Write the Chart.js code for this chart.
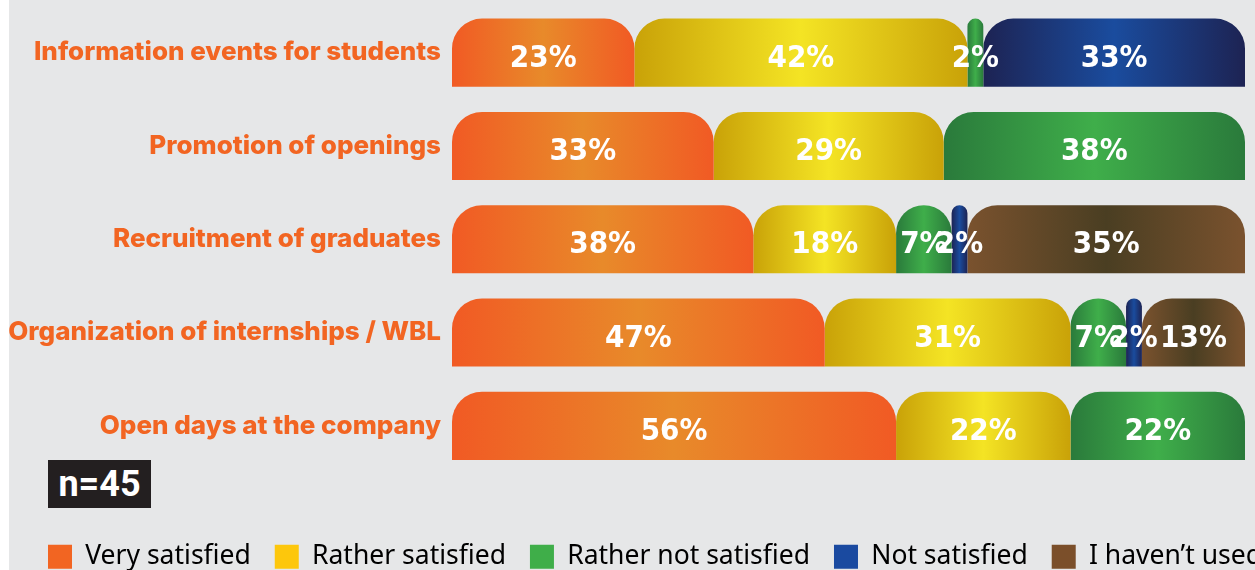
<!DOCTYPE html>
<html>
<head>
<meta charset="utf-8">
<script src="https://cdn.jsdelivr.net/npm/chart.js@4"></script>
<style>
  body { margin: 0; background: #ffffff; overflow: hidden; }
  #wrap { position: absolute; left: 9px; top: 0; width: 1246px; height: 570px; background: #e6e7e8; overflow: hidden; }
  #myChart { position: absolute; left: 0; top: 0; }
  #nbox { position: absolute; left: 39px; top: 460px; width: 103px; height: 48px; background: #231f20; color: #fff;
          font: bold 36px Roboto, "Liberation Sans", sans-serif; line-height: 48px; text-align: center; }
</style>
</head>
<body>
<div id="wrap">
  <canvas id="myChart" width="1300" height="580" style="width:1300px;height:580px"></canvas>
  <div id="nbox">n=45</div>
</div>
<script>
var categories = ["Information events for students", "Promotion of openings", "Recruitment of graduates", "Organization of internships / WBL", "Open days at the company"];
var seriesNames = ["Very satisfied", "Rather satisfied", "Rather not satisfied", "Not satisfied", "I haven\u2019t used"];
var verySatisfied = [23, 33, 38, 47, 56];
var ratherSatisfied = [42, 29, 18, 31, 22];
var ratherNotSatisfied = [2, 38, 7, 7, 22];
var notSatisfied = [33, null, 2, 2, null];
var notUsed = [null, null, 35, 13, null];

var legendColors = ["#f26522", "#fdc70c", "#3fae49", "#1a4aa0", "#7b4f2a"];
var edgeColors = ["#f15a24", "#c9a208", "#2a7a3b", "#1d2353", "#7a522e"];
var midColors = ["#e88a2a", "#f4e424", "#3fae4a", "#1a4c9e", "#4a3e22"];

// horizontal gradient over each segment: dark edges, light middle
function grad(i){
    return function(c){
        var chart = c.chart;
        if(!chart.chartArea || c.type != "data" || c.raw == null) return legendColors[i];
        var start = 0;
        for(var d = 0; d < c.datasetIndex; d++){
            var r = chart.data.datasets[d].data[c.dataIndex];
            if(r) start += r;
        }
        var xs = chart.scales.x;
        var x0 = xs.getPixelForValue(start);
        var x1 = xs.getPixelForValue(start + c.raw);
        var g = chart.ctx.createLinearGradient(x0, 0, x1, 0);
        g.addColorStop(0, edgeColors[i]);
        g.addColorStop(0.5, midColors[i]);
        g.addColorStop(1, edgeColors[i]);
        return g;
    };
}

var allData = [verySatisfied, ratherSatisfied, ratherNotSatisfied, notSatisfied, notUsed];
var datasets = allData.map(function(v, i){
    return {
        label: seriesNames[i],
        data: v,
        backgroundColor: grad(i),
        borderWidth: 0,
        borderSkipped: false,
        borderRadius: {topLeft: 30, topRight: 30, bottomLeft: 0, bottomRight: 0},
        barPercentage: 0.73,
        categoryPercentage: 1
    };
});

var barLabels = {
    id: "barLabels",
    afterDatasetsDraw: function(chart){
        var ctx = chart.ctx;
        ctx.save();
        ctx.fillStyle = "#ffffff";
        ctx.font = "bold 31px 'DejaVu Sans Condensed', 'Liberation Sans Narrow', sans-serif";
        ctx.textAlign = "center";
        ctx.textBaseline = "middle";
        chart.data.datasets.forEach(function(ds, d){
            var meta = chart.getDatasetMeta(d);
            meta.data.forEach(function(el, j){
                if(ds.data[j] == null) return;
                var p = el.getCenterPoint();
                ctx.fillText(ds.data[j] + "%", p.x, p.y + 6);
            });
        });
        ctx.restore();
    }
};

// legend starts a bit in from the panel edge
var legendShift = {
    id: "legendShift",
    afterLayout: function(chart){
        chart.legend.left = 15;
    }
};

new Chart("myChart", {
    type: "bar",
    data: { labels: categories, datasets: datasets },
    options: {
        indexAxis: "y",
        responsive: false,
        animation: false,
        layout: { padding: { left: 0, right: 0, top: 6, bottom: 0 } },
        scales: {
            x: {
                stacked: true, min: 0, max: 100,
                grid: { display: false }, border: { display: false },
                ticks: { display: false },
                afterFit: function(s){ s.height = 47; }
            },
            y: {
                stacked: true,
                grid: { display: false }, border: { display: false },
                ticks: {
                    color: "#f26522", padding: 3,
                    font: { family: "Inter, 'Noto Sans', sans-serif", size: 26, weight: 800 }
                },
                afterFit: function(s){ s.width = 443; s.paddingTop = 0; s.paddingBottom = 0; }
            },
            // empty right axis only to keep the bars inside the grey panel
            yRight: {
                type: "category", position: "right",
                grid: { display: false }, border: { display: false },
                ticks: { display: false },
                afterFit: function(s){ s.width = 64; s.paddingTop = 0; s.paddingBottom = 0; }
            }
        },
        plugins: {
            tooltip: { enabled: false },
            legend: {
                position: "bottom",
                align: "start",
                labels: {
                    boxWidth: 24, boxHeight: 24, padding: 24,
                    color: "#231f20",
                    font: { family: "'Noto Sans', sans-serif", size: 26.5 },
                    generateLabels: function(chart){
                        return seriesNames.map(function(n, i){
                            return { text: n, fillStyle: legendColors[i], strokeStyle: legendColors[i], lineWidth: 0, datasetIndex: i };
                        });
                    }
                }
            }
        }
    },
    plugins: [barLabels, legendShift]
});
</script>
</body>
</html>
